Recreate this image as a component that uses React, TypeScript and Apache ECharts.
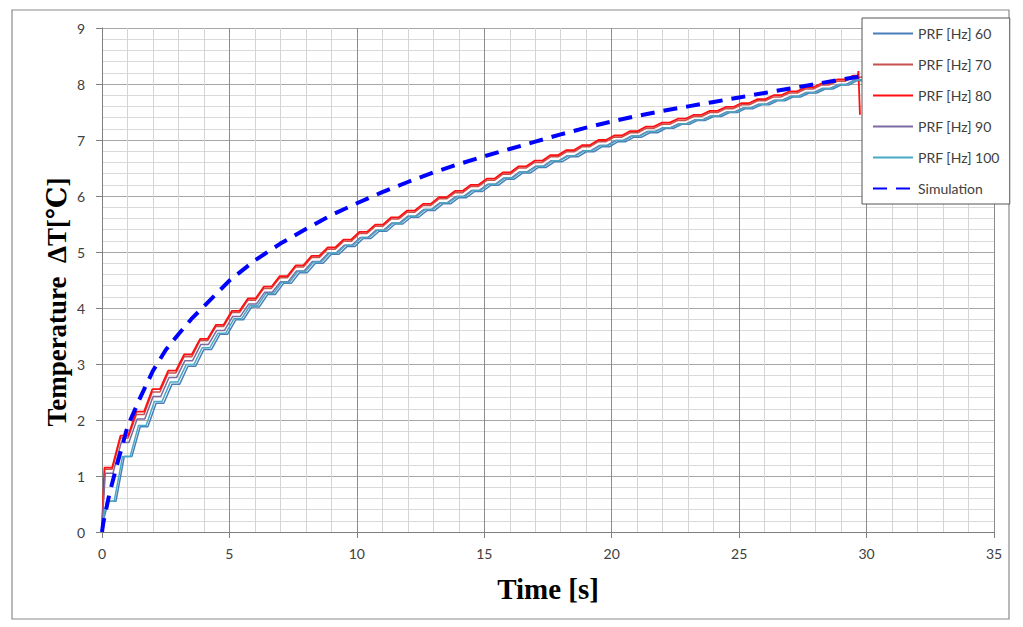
import React, { useEffect, useRef } from "react";
import * as echarts from "echarts";

// Step start times of the pulse-train heating staircase [s]
const stepTimes = [
  0.1, 0.725, 1.35, 1.975, 2.6, 3.225, 3.85, 4.475, 5.1, 5.725, 6.35, 6.975,
  7.6, 8.225, 8.85, 9.475, 10.1, 10.725, 11.35, 11.975, 12.6, 13.225, 13.85,
  14.475, 15.1, 15.725, 16.35, 16.975, 17.6, 18.225, 18.85, 19.475, 20.1,
  20.725, 21.35, 21.975, 22.6, 23.225, 23.85, 24.475, 25.1, 25.725, 26.35,
  26.975, 27.6, 28.225, 28.85, 29.475,
];

// Step plateau levels (ΔT, °C) per PRF
const prf60 = [
  0.55, 1.35, 1.88, 2.3, 2.64, 2.96, 3.26, 3.53, 3.79, 4.02, 4.24, 4.44, 4.63,
  4.8, 4.96, 5.1, 5.24, 5.37, 5.5, 5.62, 5.74, 5.86, 5.97, 6.08, 6.19, 6.3,
  6.41, 6.51, 6.61, 6.7, 6.79, 6.88, 6.97, 7.05, 7.13, 7.21, 7.28, 7.35, 7.42,
  7.49, 7.56, 7.63, 7.7, 7.77, 7.84, 7.91, 7.98, 8.06,
];
const prf70 = [
  1.12, 1.68, 2.1, 2.5, 2.84, 3.13, 3.42, 3.67, 3.92, 4.14, 4.35, 4.54, 4.73,
  4.9, 5.05, 5.19, 5.33, 5.46, 5.59, 5.71, 5.83, 5.95, 6.06, 6.17, 6.28, 6.39,
  6.5, 6.6, 6.7, 6.79, 6.88, 6.97, 7.05, 7.13, 7.21, 7.28, 7.35, 7.42, 7.49,
  7.56, 7.63, 7.7, 7.77, 7.84, 7.91, 7.98, 8.05, 8.12,
];
const prf80 = [
  1.15, 1.72, 2.15, 2.55, 2.88, 3.17, 3.45, 3.7, 3.95, 4.17, 4.38, 4.57, 4.76,
  4.93, 5.08, 5.22, 5.36, 5.49, 5.62, 5.74, 5.86, 5.98, 6.09, 6.2, 6.31, 6.42,
  6.53, 6.63, 6.73, 6.82, 6.91, 7.0, 7.08, 7.16, 7.24, 7.31, 7.38, 7.45, 7.52,
  7.59, 7.66, 7.73, 7.8, 7.87, 7.94, 8.01, 8.08, 8.15,
];
const prf90 = [
  1.05, 1.6, 2.02, 2.42, 2.76, 3.06, 3.35, 3.6, 3.85, 4.07, 4.28, 4.47, 4.66,
  4.83, 4.98, 5.12, 5.26, 5.39, 5.52, 5.64, 5.76, 5.88, 5.99, 6.1, 6.21, 6.32,
  6.43, 6.53, 6.63, 6.72, 6.81, 6.9, 6.99, 7.07, 7.15, 7.22, 7.29, 7.36, 7.43,
  7.5, 7.57, 7.64, 7.71, 7.78, 7.85, 7.92, 7.99, 8.07,
];
const prf100 = [
  0.55, 1.35, 1.9, 2.33, 2.68, 2.99, 3.29, 3.55, 3.81, 4.04, 4.26, 4.46, 4.65,
  4.82, 4.98, 5.12, 5.26, 5.39, 5.52, 5.64, 5.76, 5.88, 5.99, 6.1, 6.21, 6.32,
  6.43, 6.53, 6.63, 6.72, 6.81, 6.9, 6.99, 7.07, 7.15, 7.22, 7.29, 7.36, 7.43,
  7.5, 7.57, 7.64, 7.71, 7.78, 7.85, 7.92, 7.99, 8.07,
];
const seriesLevels = [prf60, prf70, prf80, prf90, prf100];
const seriesLag = [0.15, 0, 0, 0.03, 0.08];
// final points of each measured curve [t, ΔT] (PRF 80 drops at switch-off)
const tailPoints: number[][][] = [
  [[29.85, 8.08]],
  [[29.85, 8.14]],
  [[29.68, 8.23], [29.74, 7.45]],
  [[29.85, 8.09]],
  [[29.85, 8.09]],
];

const simTimes = [
  0, 0.05, 0.3, 0.6, 1, 1.5, 2, 2.5, 3, 3.5, 4, 5, 6, 7, 8, 9, 10, 11, 12, 13,
  14, 15, 16, 17, 18, 19, 20, 21, 22, 23, 24, 25, 26, 27, 28, 29, 29.8,
];
const simValues = [
  0, 0.16, 0.7, 1.22, 1.88, 2.4, 2.88, 3.25, 3.53, 3.8, 4.03, 4.49, 4.85, 5.15,
  5.41, 5.66, 5.87, 6.07, 6.25, 6.42, 6.57, 6.71, 6.84, 6.97, 7.1, 7.22, 7.33,
  7.43, 7.52, 7.6, 7.68, 7.76, 7.84, 7.92, 8.0, 8.08, 8.14,
];

const seriesNames = [
  "PRF [Hz] 60",
  "PRF [Hz] 70",
  "PRF [Hz] 80",
  "PRF [Hz] 90",
  "PRF [Hz] 100",
  "Simulation",
];
const seriesColors = ["#4a7ebb", "#c8514e", "#ff1010", "#7d6aa0", "#46aac5", "#0000ff"];

function staircase(levels: number[], lag: number, tail: number[][]) {
  const pts: number[][] = [[0, 0.1]];
  const flat = 0.3;
  for (let k = 0; k < levels.length; k++) {
    const t = stepTimes[k] + lag;
    const next = k + 1 < levels.length ? stepTimes[k + 1] + lag : tail[0][0];
    pts.push([t, levels[k]]);
    pts.push([Math.min(t + flat, next - 0.02), levels[k]]);
  }
  tail.forEach((p) => pts.push(p));
  return pts;
}

export default function App() {
  const ref = useRef<HTMLDivElement>(null);
  useEffect(() => {
    document.body.style.margin = "0";
    const chart = echarts.init(ref.current!, undefined, { renderer: "svg" });
    const lineSeries: any[] = seriesLevels.map((lv, i) => ({
      name: seriesNames[i],
      type: "line",
      data: staircase(lv, seriesLag[i], tailPoints[i]),
      showSymbol: false,
      symbol: "none",
      lineStyle: { color: seriesColors[i], width: i === 2 ? 1.8 : 1.5 },
      itemStyle: { color: seriesColors[i] },
      z: 2 + i * 0.1,
    }));
    lineSeries.push({
      name: seriesNames[5],
      type: "line",
      data: simTimes.map((t, i) => [t, simValues[i]]),
      showSymbol: false,
      symbol: "none",
      smooth: false,
      lineStyle: { color: seriesColors[5], width: 4, type: [14, 9] },
      itemStyle: { color: seriesColors[5] },
      z: 3,
    });
    const axisLabelStyle = {
      fontFamily: "Lato, 'Noto Sans', sans-serif",
      fontSize: 14,
      color: "#404040",
    };
    chart.setOption({
      animation: false,
      backgroundColor: "#ffffff",
      graphic: [
        {
          type: "rect",
          shape: { x: 12, y: 10, width: 997, height: 609 },
          style: { fill: "none", stroke: "#8a8a8a", lineWidth: 1.2 },
          silent: true,
        },
        {
          type: "text",
          x: 57,
          y: 302,
          rotation: Math.PI / 2,
          style: {
            text: "Temperature  ΔT[℃]",
            fontFamily: "'Liberation Serif', 'DejaVu Serif', 'Noto Sans CJK SC', serif",
            fontWeight: "bold",
            fontSize: 27,
            fill: "#000",
            align: "center",
            verticalAlign: "middle",
          },
          silent: true,
        },
      ],
      grid: { left: 102, right: 29, top: 28, bottom: 95 },
      legend: {
        orient: "vertical",
        left: 862,
        top: 18,
        width: 146,
        padding: [8.5, 10, 8.5, 10],
        itemWidth: 40,
        itemHeight: 14,
        itemGap: 17,
        backgroundColor: "#ffffff",
        borderColor: "#555555",
        borderWidth: 1,
        itemStyle: { opacity: 0, borderWidth: 0 },
        textStyle: {
          fontFamily: "Lato, 'Noto Sans', sans-serif",
          fontSize: 14,
          color: "#404040",
          width: 90,
        },
        data: seriesNames,
      },
      xAxis: {
        type: "value",
        min: 0,
        max: 35,
        interval: 5,
        name: "Time [s]",
        nameLocation: "middle",
        nameGap: 42,
        nameTextStyle: {
          fontFamily: "'Liberation Serif', 'DejaVu Serif', serif",
          fontWeight: "bold",
          fontSize: 29,
          color: "#000",
        },
        axisLine: { lineStyle: { color: "#7f7f7f" } },
        axisTick: { show: true, length: 6, lineStyle: { color: "#7f7f7f" } },
        axisLabel: { ...axisLabelStyle, margin: 14 },
        splitLine: { show: true, lineStyle: { color: "#8c8c8c", width: 1 } },
        minorTick: { show: false, splitNumber: 5 },
        minorSplitLine: { show: true, lineStyle: { color: "#d4d4d4", width: 1 } },
      },
      yAxis: {
        type: "value",
        min: 0,
        max: 9,
        interval: 1,
        axisLine: { show: true, lineStyle: { color: "#7f7f7f" } },
        axisTick: { show: true, length: 6, lineStyle: { color: "#7f7f7f" } },
        axisLabel: { ...axisLabelStyle, margin: 17 },
        splitLine: { show: true, lineStyle: { color: "#a6a6a6", width: 1 } },
        minorTick: { show: false, splitNumber: 5 },
        minorSplitLine: { show: true, lineStyle: { color: "#d9d9d9", width: 1 } },
      },
      series: lineSeries,
    });
    return () => chart.dispose();
  }, []);
  return <div ref={ref} style={{ width: 1023, height: 627 }} />;
}
